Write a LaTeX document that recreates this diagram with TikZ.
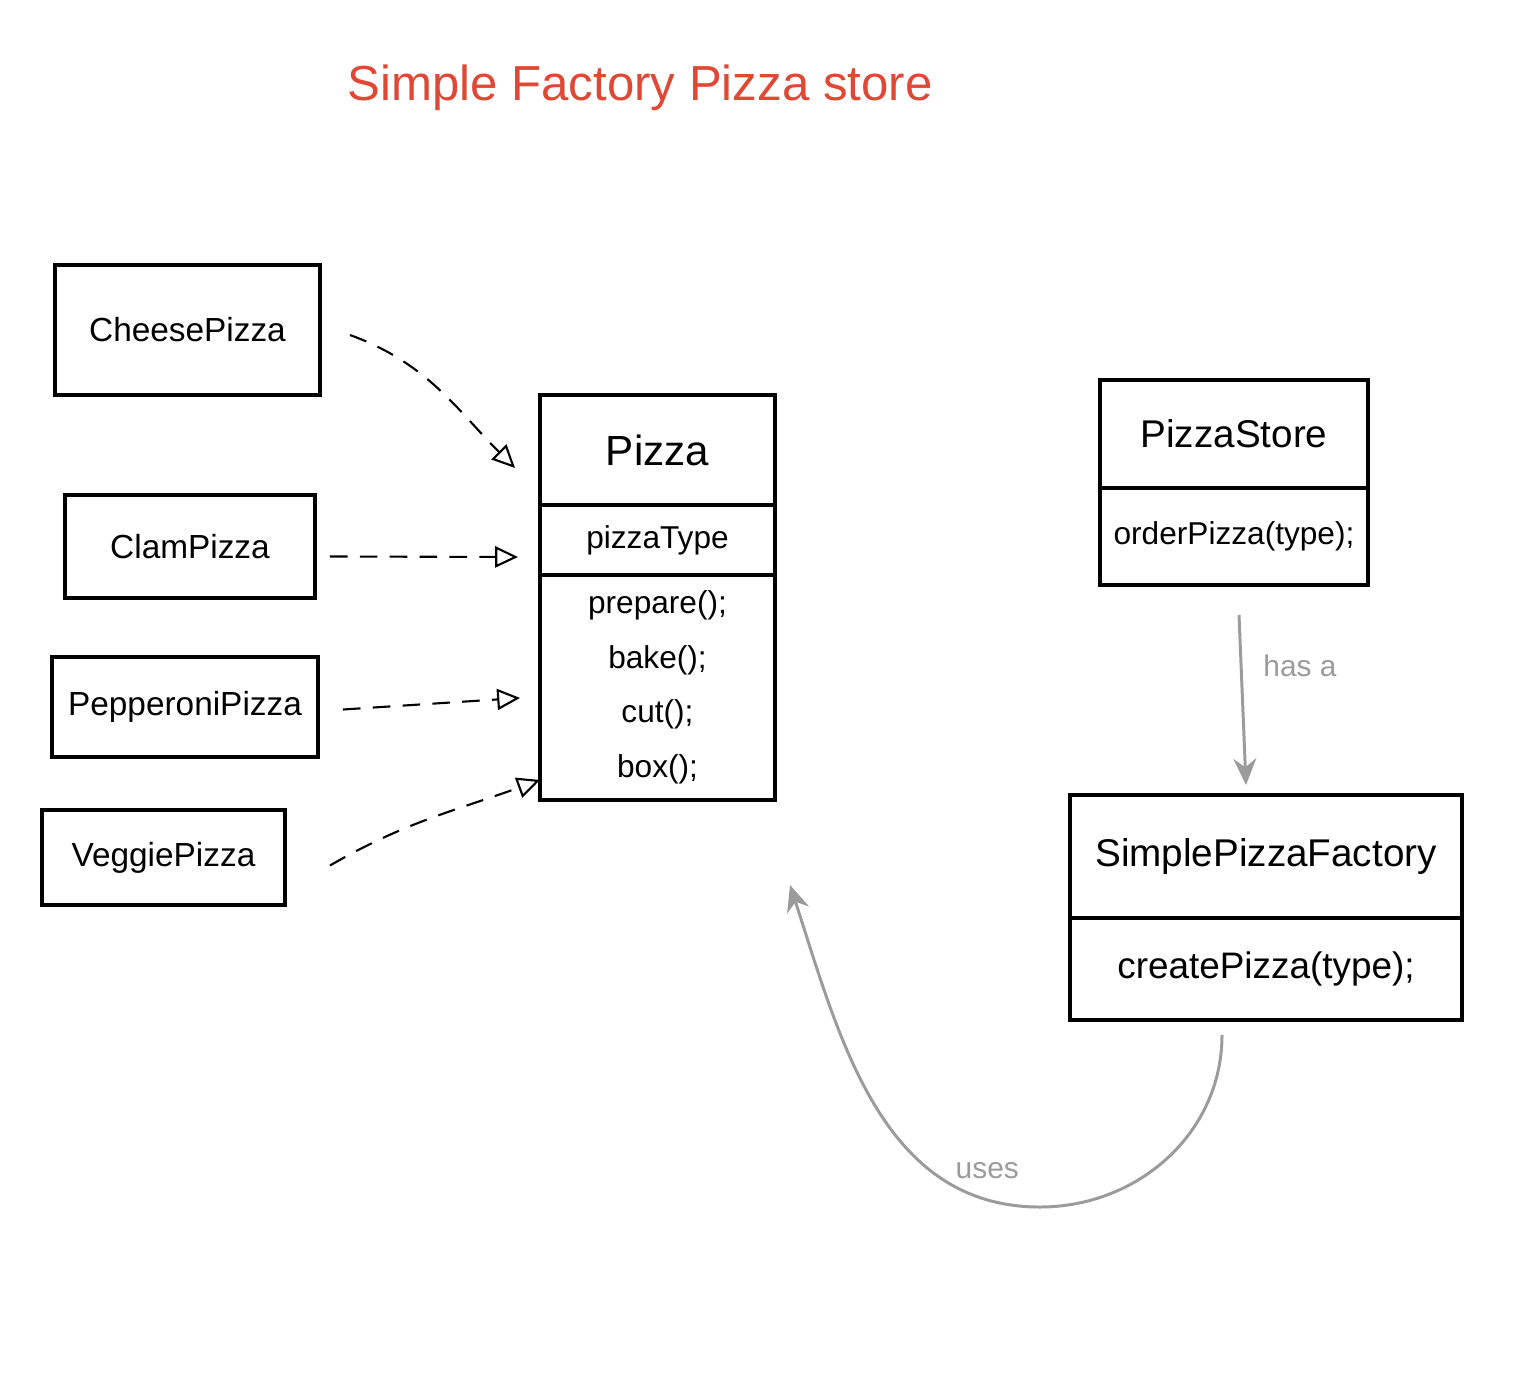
\documentclass[tikz,border=0pt]{standalone}
\usepackage{fontspec}
\setmainfont{Liberation Sans}
\usetikzlibrary{arrows.meta,positioning}
\definecolor{titlered}{RGB}{222,72,52}
\definecolor{relgray}{RGB}{155,155,155}
\tikzset{
  pizzabox/.style ={draw, line width=2pt, outer sep=0pt, inner sep=2pt,
                    font=\fontsize{19}{22}\selectfont},
  classpart/.style={draw, line width=2pt, outer sep=0pt, inner sep=2pt,
                    align=center, font=\fontsize{18}{22}\selectfont},
  classname/.style={classpart, font=\fontsize{22}{26}\selectfont},
  titletext/.style={text=titlered, font=\fontsize{28}{32}\selectfont},
  graytext/.style ={text=relgray, font=\fontsize{17}{20}\selectfont},
  realarr/.style  ={-{Triangle[open, length=13pt, width=12pt]}, line width=1.2pt,
                    dash pattern=on 10pt off 7pt},
  relarr/.style   ={-{Stealth[length=15pt, width=13pt]}, line width=1.7pt,
                    draw=relgray},
}
\begin{document}
\begin{tikzpicture}[x=0.02cm,y=-0.02cm]
  \useasboundingbox (0,0) rectangle (1538,1373);
  \node[titletext] (title) at (640,88) {Simple Factory Pizza store};

  % concrete pizzas
  \node[pizzabox, minimum width=5.3cm,  minimum height=2.6cm]  (cheese)    at (187.5,330) {CheesePizza};
  \node[pizzabox, minimum width=5.0cm,  minimum height=2.06cm] (clam)      at (190,546.5) {ClamPizza};
  \node[pizzabox, minimum width=5.32cm, minimum height=2.0cm]  (pepperoni) at (185,707)   {PepperoniPizza};
  \node[pizzabox, minimum width=4.86cm, minimum height=1.9cm]  (veggie)    at (163.5,857.5) {VeggiePizza};

  % Pizza class
  \node[classname, minimum width=4.7cm, minimum height=2.2cm] (pizzaname) at (657.5,450)
    {\fontsize{24}{28}\selectfont Pizza};
  \node[classpart, minimum width=4.7cm, minimum height=1.4cm, below=0pt of pizzaname] (pizzatype)
    {pizzaType};
  \node[classpart, minimum width=4.7cm, minimum height=4.5cm, below=0pt of pizzatype,
        font=\fontsize{18}{31}\selectfont] (pizzaops)
    {prepare();\\bake();\\cut();\\box();};

  % PizzaStore class
  \node[classname, minimum width=5.36cm, minimum height=2.16cm] (storename) at (1234,434) {PizzaStore};
  \node[classpart, minimum width=5.36cm, minimum height=1.94cm, below=0pt of storename] (storeops)
    {orderPizza(type);};

  % SimplePizzaFactory class
  \node[classname, minimum width=7.84cm, minimum height=2.46cm] (factoryname) at (1266,856.5)
    {SimplePizzaFactory};
  \node[classpart, minimum width=7.84cm, minimum height=2.04cm, below=0pt of factoryname,
        font=\fontsize{21}{25}\selectfont] (factoryops)
    {createPizza(type);};

  % realizations
  \draw[realarr] ([xshift=0.6cm,yshift=-0.1cm]cheese.east) to[out=-20,in=135]
    ([xshift=-0.5cm,yshift=0.74cm]pizzaname.south west);
  \draw[realarr] ([xshift=0.3cm,yshift=-0.2cm]clam.east) --
    ([xshift=-0.44cm,yshift=-0.34cm]pizzatype.west);
  \draw[realarr] ([xshift=0.5cm,yshift=-0.05cm]pepperoni.east) --
    ([xshift=-0.4cm,yshift=-0.21cm]pizzaops.west);
  \draw[realarr] ([xshift=0.9cm,yshift=-0.16cm]veggie.east) to[out=30,in=200]
    ([yshift=0.4cm]pizzaops.south west);

  % has a
  \draw[relarr] ([xshift=0.1cm,yshift=-0.6cm]storeops.south) --
    ([xshift=-0.4cm,yshift=0.2cm]factoryname.north)
    node[graytext, pos=0.3, right=0.3cm] (hasa) {has a};

  % uses
  \coordinate (usebend) at (1040,1207);
  \draw[relarr] ([xshift=-0.88cm,yshift=-0.3cm]factoryops.south) to[out=-90,in=0] (usebend)
    to[out=180,in=-72] ([xshift=0.3cm,yshift=-1.7cm]pizzaops.south east);
  \node[graytext, above left=0.44cm and 0.3cm of usebend] (uses) {uses};
\end{tikzpicture}
\end{document}
